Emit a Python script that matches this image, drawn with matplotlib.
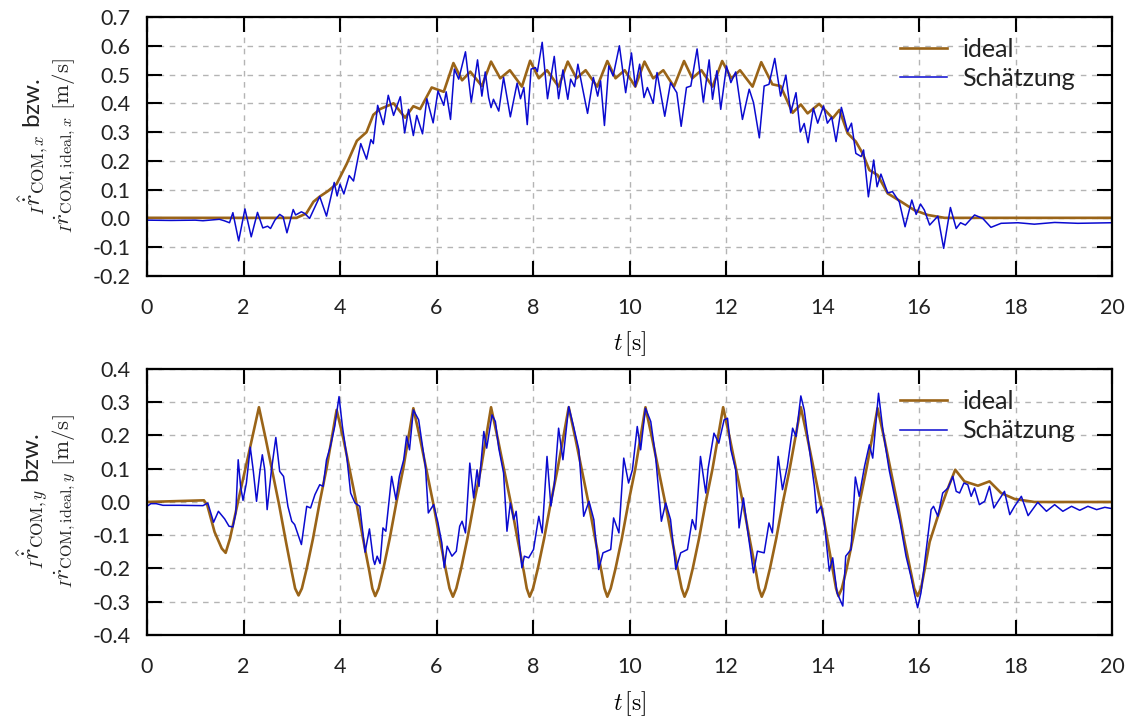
import numpy as np
import matplotlib
matplotlib.use("Agg")
import matplotlib.pyplot as plt

plt.rcParams['font.family'] = ['Lato', 'DejaVu Sans']
plt.rcParams['mathtext.fontset'] = 'cm'
plt.rcParams['axes.unicode_minus'] = False

ideal_x = [(0, 0.002), (3.1, 0.002), (3.3, 0.017), (3.45, 0.058), (3.58, 0.076), (3.75, 0.095),
           (3.93, 0.12), (4.14, 0.19), (4.35, 0.27), (4.55, 0.30), (4.69, 0.36), (4.83, 0.38),
           (5.11, 0.40), (5.35, 0.35), (5.52, 0.39), (5.66, 0.38), (5.9, 0.455), (6.15, 0.44),
           (6.35, 0.54), (6.53, 0.48), (6.7, 0.51), (6.94, 0.46), (7.13, 0.545), (7.32, 0.487),
           (7.52, 0.515), (7.77, 0.458), (7.94, 0.548), (8.12, 0.487), (8.29, 0.515), (8.53, 0.458),
           (8.72, 0.545), (8.9, 0.487), (9.09, 0.515), (9.33, 0.458), (9.54, 0.547), (9.71, 0.487),
           (9.9, 0.515), (10.12, 0.458), (10.31, 0.545), (10.49, 0.487), (10.7, 0.515), (10.92, 0.458),
           (11.13, 0.547), (11.3, 0.487), (11.49, 0.515), (11.72, 0.458), (11.92, 0.547), (12.11, 0.487),
           (12.29, 0.515), (12.55, 0.458), (12.73, 0.543), (12.96, 0.466), (13.13, 0.46), (13.38, 0.367),
           (13.55, 0.396), (13.69, 0.365), (13.93, 0.398), (14.21, 0.348), (14.35, 0.377), (14.52, 0.296),
           (14.69, 0.267), (14.83, 0.226), (14.97, 0.168), (15.14, 0.151), (15.35, 0.087), (15.63, 0.058),
           (15.9, 0.029), (16.18, 0.012), (16.53, 0.002), (20, 0.002)]

schaetz_x = [(0, -0.006), (0.5, -0.007), (1.0, -0.006), (1.16, -0.008), (1.35, -0.005), (1.5, -0.003),
             (1.6, -0.008), (1.71, -0.015), (1.78, 0.02), (1.9, -0.078), (2.03, 0.033), (2.16, -0.064),
             (2.29, 0.021), (2.4, -0.033), (2.5, -0.027), (2.56, -0.035), (2.65, -0.006), (2.75, 0.014),
             (2.82, 0.006), (2.9, -0.05), (3.03, 0.031), (3.08, 0.012), (3.2, 0.023), (3.27, 0.017),
             (3.37, 0.0), (3.58, 0.076), (3.72, 0.008), (3.88, 0.125), (3.94, 0.078), (4.0, 0.119),
             (4.08, 0.085), (4.19, 0.149), (4.28, 0.13), (4.43, 0.26), (4.55, 0.206), (4.64, 0.274),
             (4.69, 0.26), (4.78, 0.393), (4.9, 0.326), (5.0, 0.428), (5.11, 0.358), (5.25, 0.423),
             (5.34, 0.297), (5.42, 0.379), (5.52, 0.288), (5.59, 0.358), (5.71, 0.294), (5.8, 0.416),
             (5.93, 0.332), (6.03, 0.443), (6.15, 0.393), (6.2, 0.44), (6.29, 0.344), (6.37, 0.519),
             (6.46, 0.484), (6.6, 0.579), (6.72, 0.404), (6.85, 0.551), (6.94, 0.425), (7.01, 0.509),
             (7.08, 0.42), (7.13, 0.385), (7.18, 0.414), (7.29, 0.373), (7.39, 0.49), (7.53, 0.353),
             (7.67, 0.47), (7.74, 0.416), (7.81, 0.455), (7.88, 0.326), (7.96, 0.519), (8.05, 0.524),
             (8.09, 0.51), (8.19, 0.612), (8.3, 0.416), (8.44, 0.563), (8.53, 0.416), (8.62, 0.516),
             (8.72, 0.414), (8.78, 0.484), (8.86, 0.458), (8.93, 0.536), (9.02, 0.458), (9.13, 0.365),
             (9.25, 0.49), (9.34, 0.425), (9.4, 0.478), (9.48, 0.323), (9.57, 0.53), (9.66, 0.495),
             (9.79, 0.6), (9.92, 0.437), (10.04, 0.575), (10.12, 0.458), (10.21, 0.536), (10.3, 0.42),
             (10.37, 0.455), (10.49, 0.4), (10.57, 0.507), (10.73, 0.355), (10.85, 0.472), (10.98, 0.437),
             (11.07, 0.32), (11.18, 0.455), (11.27, 0.46), (11.4, 0.589), (11.53, 0.404), (11.65, 0.551),
             (11.72, 0.414), (11.81, 0.513), (11.89, 0.379), (12.01, 0.53), (12.1, 0.472), (12.2, 0.509),
             (12.34, 0.344), (12.48, 0.449), (12.57, 0.402), (12.69, 0.28), (12.79, 0.46), (12.89, 0.466),
             (13.01, 0.556), (13.13, 0.425), (13.24, 0.498), (13.34, 0.367), (13.45, 0.437), (13.54, 0.3),
             (13.62, 0.33), (13.7, 0.263), (13.81, 0.383), (13.9, 0.331), (14.02, 0.391), (14.1, 0.331),
             (14.19, 0.352), (14.28, 0.267), (14.39, 0.386), (14.45, 0.348), (14.52, 0.302), (14.6, 0.331),
             (14.69, 0.226), (14.8, 0.215), (14.85, 0.238), (14.95, 0.075), (15.06, 0.203), (15.13, 0.11),
             (15.21, 0.154), (15.35, 0.089), (15.45, 0.093), (15.59, 0.058), (15.71, -0.029), (15.85, 0.064),
             (15.94, 0.014), (16.03, 0.05), (16.11, 0.029), (16.22, -0.023), (16.39, 0.008), (16.51, -0.104),
             (16.65, 0.038), (16.77, -0.035), (16.86, -0.015), (16.96, -0.023), (17.15, 0.012), (17.32, 0.0),
             (17.49, -0.031), (17.7, -0.017), (18.05, -0.015), (18.39, -0.02), (18.81, -0.014), (19.29, -0.017),
             (20, -0.015)]

ideal_y = [(0, 0.0), (1.18, 0.005), (1.25, -0.01), (1.4, -0.09), (1.55, -0.14), (1.63, -0.153),
           (1.72, -0.11), (1.9, 0.01), (2.1, 0.14), (2.32, 0.285),
           (2.46, 0.19), (2.6, 0.09), (2.74, -0.01), (2.88, -0.12), (3.0, -0.21), (3.07, -0.26), (3.14, -0.281),
           (3.21, -0.26), (3.31, -0.2), (3.44, -0.11), (3.58, 0.0), (3.72, 0.1), (3.93, 0.277),
           (4.07, 0.19), (4.21, 0.09), (4.35, -0.01), (4.49, -0.12), (4.61, -0.21), (4.67, -0.26), (4.73, -0.283),
           (4.8, -0.26), (4.9, -0.2), (5.03, -0.11), (5.17, 0.0), (5.31, 0.1), (5.52, 0.282),
           (5.66, 0.19), (5.8, 0.09), (5.94, -0.01), (6.08, -0.12), (6.2, -0.21), (6.27, -0.26), (6.34, -0.285),
           (6.41, -0.26), (6.51, -0.2), (6.64, -0.11), (6.78, 0.0), (6.92, 0.1), (7.13, 0.285),
           (7.27, 0.19), (7.41, 0.09), (7.55, -0.01), (7.69, -0.12), (7.81, -0.21), (7.87, -0.26), (7.93, -0.285),
           (8.0, -0.26), (8.1, -0.2), (8.23, -0.11), (8.37, 0.0), (8.51, 0.1), (8.74, 0.285),
           (8.88, 0.19), (9.02, 0.09), (9.16, -0.01), (9.3, -0.12), (9.42, -0.21), (9.48, -0.26), (9.54, -0.285),
           (9.61, -0.26), (9.71, -0.2), (9.84, -0.11), (9.98, 0.0), (10.12, 0.1), (10.33, 0.285),
           (10.47, 0.19), (10.61, 0.09), (10.75, -0.01), (10.89, -0.12), (11.01, -0.21), (11.08, -0.26), (11.14, -0.285),
           (11.21, -0.26), (11.31, -0.2), (11.44, -0.11), (11.58, 0.0), (11.72, 0.1), (11.94, 0.285),
           (12.08, 0.19), (12.22, 0.09), (12.36, -0.01), (12.5, -0.12), (12.62, -0.21), (12.68, -0.26), (12.74, -0.285),
           (12.81, -0.26), (12.91, -0.2), (13.04, -0.11), (13.18, 0.0), (13.32, 0.1), (13.55, 0.285),
           (13.69, 0.19), (13.83, 0.09), (13.97, -0.01), (14.11, -0.12), (14.22, -0.21), (14.28, -0.26), (14.33, -0.283),
           (14.4, -0.26), (14.5, -0.2), (14.63, -0.11), (14.77, 0.0), (14.91, 0.1), (15.14, 0.282),
           (15.28, 0.19), (15.42, 0.09), (15.56, -0.01), (15.7, -0.12), (15.83, -0.21), (15.9, -0.26), (15.97, -0.283),
           (16.04, -0.26), (16.12, -0.2), (16.22, -0.12), (16.39, -0.043), (16.6, 0.042), (16.75, 0.097),
           (16.94, 0.062), (17.22, 0.049), (17.46, 0.062), (17.7, 0.027), (17.98, 0.009), (18.39, 0.0), (20, 0.0)]

schaetz_y = [(0, -0.013), (0.08, -0.005), (0.19, -0.005), (0.33, -0.01), (0.67, -0.01), (1.16, -0.011),
             (1.26, -0.003), (1.38, -0.061), (1.48, -0.028), (1.61, -0.051), (1.7, -0.073), (1.78, -0.075),
             (1.84, -0.033), (1.89, 0.127), (1.94, 0.047), (1.99, 0.005), (2.06, 0.057), (2.14, 0.165),
             (2.2, 0.097), (2.27, 0.002), (2.34, 0.092), (2.39, 0.142), (2.44, 0.097), (2.49, -0.023),
             (2.58, 0.097), (2.67, 0.194), (2.75, 0.092), (2.83, 0.077), (2.92, -0.013), (3.0, -0.058),
             (3.06, -0.068), (3.2, -0.128), (3.31, -0.013), (3.39, -0.018), (3.48, 0.022), (3.58, 0.052),
             (3.65, 0.047), (3.72, 0.127), (3.8, 0.167), (3.89, 0.227), (3.98, 0.317), (4.05, 0.227),
             (4.14, 0.137), (4.22, 0.027), (4.31, -0.003), (4.41, -0.013), (4.52, -0.151), (4.61, -0.081),
             (4.69, -0.173), (4.72, -0.188), (4.77, -0.163), (4.83, -0.185), (4.89, -0.078), (4.95, -0.088),
             (5.07, 0.077), (5.16, 0.007), (5.23, 0.077), (5.32, 0.127), (5.38, 0.197), (5.44, 0.157),
             (5.52, 0.277), (5.63, 0.247), (5.77, 0.107), (5.83, -0.033), (5.94, -0.008), (6.03, -0.063),
             (6.11, -0.123), (6.16, -0.198), (6.22, -0.133), (6.32, -0.163), (6.41, -0.148), (6.48, -0.073),
             (6.53, -0.058), (6.6, -0.093), (6.69, 0.117), (6.77, 0.012), (6.84, 0.097), (6.88, 0.047),
             (6.98, 0.212), (7.04, 0.162), (7.15, 0.262), (7.22, 0.242), (7.29, 0.162), (7.39, 0.087),
             (7.46, -0.088), (7.53, -0.003), (7.6, -0.053), (7.65, -0.028), (7.77, -0.198), (7.82, -0.163),
             (7.91, -0.168), (8.01, -0.143), (8.12, -0.043), (8.19, -0.093), (8.29, 0.137), (8.37, -0.012),
             (8.44, 0.052), (8.53, 0.222), (8.62, 0.127), (8.74, 0.287), (8.84, 0.227), (8.95, 0.157),
             (9.05, -0.043), (9.16, 0.002), (9.26, -0.053), (9.36, -0.203), (9.45, -0.153), (9.61, -0.143),
             (9.67, -0.048), (9.78, -0.093), (9.88, 0.132), (9.98, 0.057), (10.06, 0.097), (10.16, 0.227),
             (10.23, 0.157), (10.33, 0.282), (10.44, 0.242), (10.54, 0.137), (10.66, -0.058), (10.75, -0.003),
             (10.85, -0.053), (10.96, -0.203), (11.06, -0.153), (11.2, -0.143), (11.3, -0.053), (11.37, -0.083),
             (11.47, 0.137), (11.58, 0.027), (11.63, 0.102), (11.75, 0.207), (11.85, 0.177), (11.96, 0.247),
             (12.03, 0.252), (12.1, 0.157), (12.2, 0.097), (12.27, -0.078), (12.36, 0.012), (12.44, -0.078),
             (12.57, -0.213), (12.65, -0.148), (12.79, -0.153), (12.89, -0.063), (12.96, -0.093), (13.08, 0.137),
             (13.17, 0.037), (13.27, 0.107), (13.38, 0.222), (13.45, 0.197), (13.55, 0.319), (13.62, 0.277),
             (13.72, 0.167), (13.83, 0.047), (13.88, -0.033), (13.97, -0.013), (14.03, -0.053), (14.14, -0.208),
             (14.21, -0.168), (14.3, -0.273), (14.42, -0.313), (14.48, -0.163), (14.59, -0.143), (14.68, 0.075),
             (14.76, 0.017), (14.87, 0.107), (14.97, 0.172), (15.04, 0.132), (15.16, 0.327), (15.25, 0.217),
             (15.38, 0.097), (15.52, -0.003), (15.61, -0.063), (15.73, -0.163), (15.83, -0.223), (15.9, -0.273),
             (15.97, -0.318), (16.04, -0.273), (16.15, -0.143), (16.25, -0.023), (16.3, -0.013), (16.39, -0.043),
             (16.49, 0.027), (16.6, 0.042), (16.7, 0.077), (16.77, 0.032), (16.84, 0.027), (16.93, 0.057),
             (17.01, 0.052), (17.08, 0.017), (17.15, 0.042), (17.25, -0.008), (17.36, 0.002), (17.46, 0.047),
             (17.55, -0.018), (17.77, 0.032), (17.88, -0.038), (17.98, -0.013), (18.12, 0.017), (18.26, -0.041),
             (18.46, -0.001), (18.64, -0.028), (18.81, -0.008), (18.98, -0.028), (19.16, -0.013), (19.33, -0.025),
             (19.5, -0.013), (19.68, -0.023), (19.85, -0.016), (20, -0.02)]

yticks_x = [-0.2, -0.1, 0.0, 0.1, 0.2, 0.3, 0.4, 0.5, 0.6, 0.7]
yticks_y = [-0.4, -0.3, -0.2, -0.1, 0.0, 0.1, 0.2, 0.3, 0.4]
xticks = [0, 2, 4, 6, 8, 10, 12, 14, 16, 18, 20]

C_IDEAL = '#9a6418'
C_EST = '#0a0ad0'


def style_axis(ax, yticks, comp):
    ax.set_xlim(0, 20)
    ax.set_ylim(yticks[0], yticks[-1])
    ax.set_xticks(xticks)
    ax.set_yticks(yticks)
    ax.set_yticklabels(['%.1f' % v for v in yticks])
    ax.tick_params(direction='in', length=11, width=1.5, labelsize=15.5,
                   top=True, right=True, colors='black', labelcolor='#222222')
    ax.tick_params(axis='x', pad=16)
    ax.tick_params(axis='y', pad=12)
    for s in ax.spines.values():
        s.set_linewidth(1.6)
    ax.grid(True, color='#b4b4b4', linestyle=(0, (4, 4)), linewidth=1.0)
    ax.set_axisbelow(True)
    ax.set_xlabel(r'$t\,[\mathrm{s}]$', fontsize=17)
    ax.xaxis.set_label_coords(0.5, -0.205)
    ax.xaxis.label.set_va('top')
    ax.text(-0.118, 0.5, r'${}_{I}\hat{\dot{r}}_{\mathrm{COM},%s}$ bzw.' % comp,
            transform=ax.transAxes, rotation=90, ha='center', va='center',
            fontsize=17.5, color='#222222')
    ax.text(-0.086, 0.5, r'${}_{I}\dot{r}_{\mathrm{COM,ideal},%s}\ [\mathrm{m/s}]$' % comp,
            transform=ax.transAxes, rotation=90, ha='center', va='center',
            fontsize=16.5, color='#222222')
    ax.legend(loc='upper right', bbox_to_anchor=(0.972, 0.958), frameon=False,
              fontsize=18, handlelength=1.9, handletextpad=0.6, labelspacing=0.25,
              borderaxespad=0.0, labelcolor='#222222')


def main():
    fig = plt.figure(figsize=(11.29, 7.2), dpi=100)
    ax1 = fig.add_axes([0.1302, 0.6167, 0.8548, 0.3597])
    ax2 = fig.add_axes([0.1302, 0.1181, 0.8548, 0.3694])

    for ax, ideal, est, yt, comp in [(ax1, ideal_x, schaetz_x, yticks_x, 'x'),
                                     (ax2, ideal_y, schaetz_y, yticks_y, 'y')]:
        ti, vi = np.array(ideal).T
        te, ve = np.array(est).T
        ax.plot(ti, vi, color=C_IDEAL, linewidth=1.9, label='ideal')
        ax.plot(te, ve, color=C_EST, linewidth=1.1, label='Schätzung')
        style_axis(ax, yt, comp)

    fig.savefig('out.png', dpi=100)


if __name__ == "__main__":
    main()
